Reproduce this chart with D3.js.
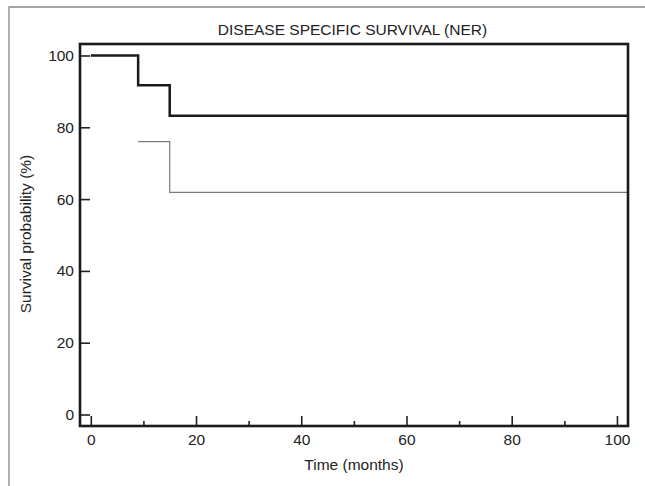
<!DOCTYPE html>
<html>
<head>
<meta charset="utf-8">
<script src="https://cdn.jsdelivr.net/npm/d3@7"></script>
<style>
    body { margin: 0; background: #fff; }
    svg { display: block; font-family: "Liberation Sans", Arial, sans-serif; }
</style>
</head>
<body>
<script>
const w = 645;
const h = 486;

const title = "DISEASE SPECIFIC SURVIVAL (NER)";
const xLabel = "Time (months)";
const yLabel = "Survival probability (%)";

// Kaplan-Meier step curve (thick) and the lower curve (thin)
const times = [0, 9, 15, 102.1];
const survival = [100, 91.7, 83.2, 83.2];
const lowerTimes = [9, 15, 102.1];
const lowerSurvival = [76, 61.9, 61.9];

const xTicks = [0, 20, 40, 60, 80, 100];
const xMinorTicks = [10, 30, 50, 70, 90];
const yTicks = [0, 20, 40, 60, 80, 100];

const plotLeft = 80, plotRight = 628, plotTop = 44, plotBottom = 426;

const svg = d3.select("body")
    .append("svg")
    .attr("width", w)
    .attr("height", h)
    ;

// outer frame (partially cropped in the original)
svg.append("path")
    .attr("d", `M9,${h} L9,7 L${w},7`)
    .attr("fill", "none")
    .attr("stroke", "#888")
    .attr("stroke-width", 1.3)
    ;

const xScale = d3.scaleLinear()
    .domain([-2.05, 102.1])
    .range([plotLeft, plotRight])
    ;

const yScale = d3.scaleLinear()
    .domain([-3.2, 103.2])
    .range([plotBottom, plotTop])
    ;

const xAxis = d3.axisBottom(xScale)
    .tickValues(xTicks)
    .tickSize(-10)
    .tickPadding(8)
    .tickFormat(d3.format("d"))
    ;

const xMinor = d3.axisBottom(xScale)
    .tickValues(xMinorTicks)
    .tickSize(-5)
    .tickFormat("")
    ;

const yAxis = d3.axisLeft(yScale)
    .tickValues(yTicks)
    .tickSize(-10)
    .tickPadding(6)
    .tickFormat(d3.format("d"))
    ;

const gx = svg.append("g")
    .attr("transform", "translate(0, " + plotBottom + ")")
    .call(xAxis)
    ;
const gxm = svg.append("g")
    .attr("transform", "translate(0, " + plotBottom + ")")
    .call(xMinor)
    ;
const gy = svg.append("g")
    .attr("transform", "translate(" + plotLeft + ", 0)")
    .call(yAxis)
    ;

[gx, gxm, gy].forEach(g => {
    g.select(".domain").remove();
    g.selectAll(".tick line").attr("stroke", "#222").attr("stroke-width", 1.6);
    g.selectAll(".tick text")
        .attr("fill", "#222")
        .style("font-size", "15.5px")
        .style("font-family", "'Liberation Sans', Arial, sans-serif");
});

// curves
const line = d3.line()
    .x(d => xScale(d[0]))
    .y(d => yScale(d[1]))
    .curve(d3.curveStepAfter)
    ;

svg.append("path")
    .datum(lowerTimes.map((t, i) => [t, lowerSurvival[i]]))
    .attr("d", line)
    .attr("fill", "none")
    .attr("stroke", "#7a7a7a")
    .attr("stroke-width", 1.2)
    ;

svg.append("path")
    .datum(times.map((t, i) => [t, survival[i]]))
    .attr("d", line)
    .attr("fill", "none")
    .attr("stroke", "#1a1a1a")
    .attr("stroke-width", 2.5)
    ;

// plot box
svg.append("rect")
    .attr("x", plotLeft)
    .attr("y", plotTop)
    .attr("width", plotRight - plotLeft)
    .attr("height", plotBottom - plotTop)
    .attr("fill", "none")
    .attr("stroke", "#1a1a1a")
    .attr("stroke-width", 2.6)
    ;

// texts
svg.append("text")
    .attr("x", 352.5)
    .attr("y", 35)
    .attr("text-anchor", "middle")
    .attr("fill", "#222")
    .style("font-size", "15.5px")
    .text(title)
    ;

svg.append("text")
    .attr("x", 354)
    .attr("y", 470)
    .attr("text-anchor", "middle")
    .attr("fill", "#222")
    .style("font-size", "15.5px")
    .text(xLabel)
    ;

svg.append("text")
    .attr("transform", "translate(31, 234) rotate(-90)")
    .attr("text-anchor", "middle")
    .attr("fill", "#222")
    .style("font-size", "15.5px")
    .text(yLabel)
    ;
</script>
</body>
</html>
